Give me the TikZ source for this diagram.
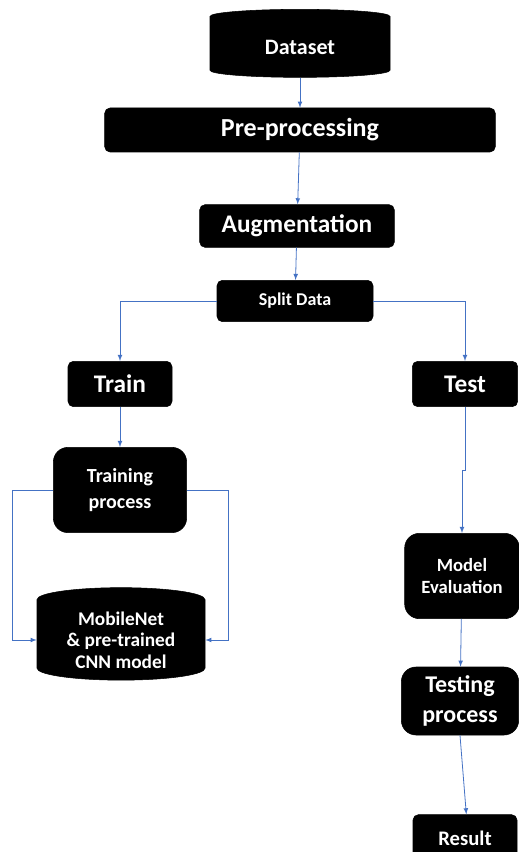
\documentclass[tikz,border=0pt]{standalone}
\usepackage{fontspec}
\setmainfont{Carlito}
\usepackage{tikz}
\usetikzlibrary{positioning,shapes,arrows}
\definecolor{linkblue}{RGB}{68,114,196}

\begin{document}
\begin{tikzpicture}
            [x=0.75pt,y=-0.75pt,
            box/.style={draw, fill=black, text=white, font=\bfseries, rounded corners=4pt, inner sep=0pt, align=center},
            bigbox/.style={box, rounded corners=11pt},
            db/.style={cylinder, shape border rotate=90, aspect=0.2, draw, fill=black, text=white, font=\bfseries, inner sep=0pt, align=center},
            link/.style={draw=linkblue, -latex, line width=0.6pt}]
            \useasboundingbox (0,0) rectangle (518,852);
            \node[db, minimum width=135pt, minimum height=51pt, font=\bfseries\fontsize{16.5}{20}\selectfont] (data) at (300,47) {Dataset};
            \node[box, minimum width=293pt, minimum height=33pt, font=\bfseries\fontsize{19.5}{22}\selectfont] (prep) at (300,130) {Pre-processing};
            \node[box, minimum width=146pt, minimum height=32pt, font=\bfseries\fontsize{19}{20}\selectfont] (aug) at (297,226) {Augmentation};
            \node[box, minimum width=117pt, minimum height=31pt, font=\bfseries\fontsize{13.5}{14}\selectfont] (split) at (295,301) {Split Data};
            \node[box, minimum width=78pt, minimum height=34pt, font=\bfseries\fontsize{19}{20}\selectfont] (train) at (120,384) {Train};
            \node[box, minimum width=79pt, minimum height=34pt, font=\bfseries\fontsize{19}{20}\selectfont] (test) at (465,384) {Test};
            \node[bigbox, minimum width=100pt, minimum height=64pt, font=\bfseries\fontsize{15}{19.5}\selectfont] (tproc) at (120,490) {Training\\process};
            \node[db, aspect=0.22, minimum width=126pt, minimum height=64pt, font=\bfseries\fontsize{14.5}{16}\selectfont] (cnn) at (121,640) {MobileNet\\\& pre-trained\\CNN model};
            \node[bigbox, minimum width=86pt, minimum height=64pt, font=\bfseries\fontsize{14}{17}\selectfont] (eval) at (462,576) {Model\\Evaluation};
            \node[bigbox, minimum width=88pt, minimum height=51pt, font=\bfseries\fontsize{18}{22}\selectfont] (tstproc) at (460,701) {Testing\\process};
            \node[box, minimum width=78pt, minimum height=35pt, font=\bfseries\fontsize{15.5}{17}\selectfont] (res) at (465,838) {Result};

            \foreach \from/\to in {data/prep, prep/aug, aug/split, train/tproc, eval/tstproc}
            \draw[link] (\from) -- (\to);
            \draw[link] (tstproc.south) -- ([xshift=1pt]res.north);
            \draw[link] (test.south) -- ++(0,63) -| (eval.north);
            \draw[link] (split.west) -| (train.north);
            \draw[link] (split.east) -| (test.north);
            \draw[link] (tproc.west) -- ++(-41,0) |- (cnn.west);
            \draw[link] (tproc.east) -- ++(41,0) |- (cnn.east);
          \end{tikzpicture}
\end{document}
